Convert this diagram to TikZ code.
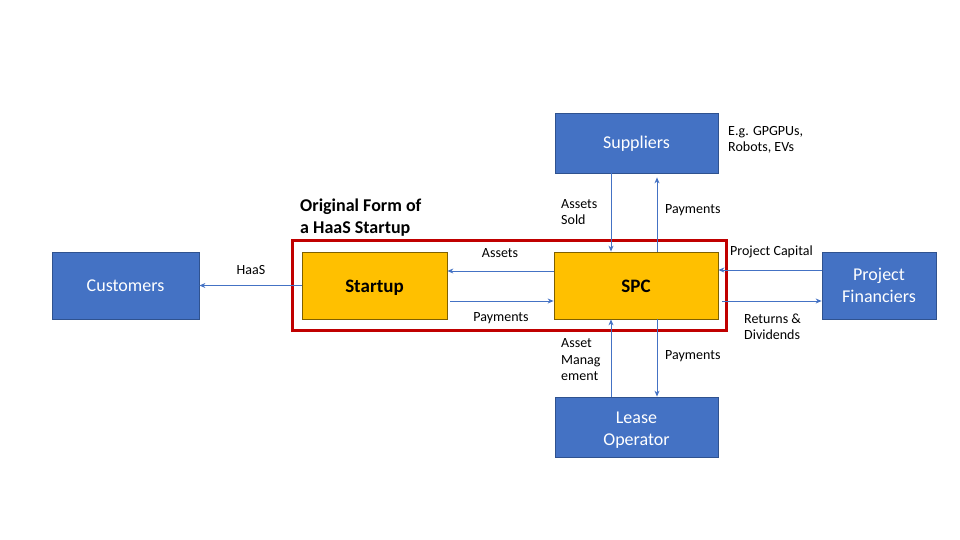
\documentclass[tikz,border=0pt]{standalone}
\usepackage{fontspec}
\setmainfont{Carlito}
\usetikzlibrary{arrows.meta}
\definecolor{bluebox}{HTML}{4472C4}
\definecolor{blueedge}{HTML}{2F528F}
\definecolor{yellowbox}{HTML}{FFC000}
\definecolor{yellowedge}{HTML}{7F6000}
\definecolor{redframe}{HTML}{C00000}
\tikzset{
  bluenode/.style={draw=blueedge, line width=0.8pt, fill=bluebox, text=white, align=center,
    font=\fontsize{18}{22}\selectfont, inner sep=0pt},
  yellownode/.style={draw=yellowedge, line width=0.8pt, fill=yellowbox, text=black,
    font=\fontsize{19}{22}\selectfont\bfseries, inner sep=0pt, text height=14pt, text depth=0pt},
  arr/.style={draw=bluebox, line width=0.9pt, -{Stealth[length=6pt,width=5pt]}},
  lbl/.style={font=\fontsize{14}{16.5}\selectfont, text=black, align=left, inner sep=0pt},
}
\begin{document}
\begin{tikzpicture}[x=1pt,y=-1pt]
\useasboundingbox (0,0) rectangle (960,540);
% red frame
\node[draw=redframe, line width=3pt, minimum width=434pt, minimum height=90pt, inner sep=0pt] (frame) at (509,285) {};
% boxes
\node[bluenode, minimum width=147pt, minimum height=67pt] (cust) at (125.5,285.5) {Customers};
\node[yellownode, minimum width=145pt, minimum height=67pt] (startup) at (374.5,285.5) {\smash{Startup}};
\node[yellownode, minimum width=164pt, minimum height=67pt] (spc) at (636,285.5) {\smash{SPC}};
\node[bluenode, minimum width=114pt, minimum height=67pt] (fin) at (879,285.5) {Project\\Financiers};
\node[bluenode, minimum width=163pt, minimum height=60pt, text height=12pt, text depth=0pt] (sup) at (636.5,143) {\smash{Suppliers}};
\node[bluenode, minimum width=163pt, minimum height=60pt] (lease) at (636.5,427) {\rule{0pt}{17.5pt}Lease\\Operator};
% arrows
\draw[arr] (startup.west) -- (cust.east);
\draw[arr] ([yshift=14.5pt]spc.west) -- ([yshift=14.5pt]startup.east);
\draw[arr] ([xshift=3pt,yshift=-15.5pt]startup.east) -- ([yshift=-15.5pt]spc.west);
\draw[arr] ([xshift=-25.5pt]sup.south) -- ([xshift=-25pt]spc.north);
\draw[arr] ([xshift=21pt]spc.north) -- ([xshift=20.5pt,yshift=-4pt]sup.south);
\draw[arr] ([yshift=15.5pt]fin.west) -- ([yshift=15.5pt]spc.east);
\draw[arr] ([xshift=4pt,yshift=-15.5pt]spc.east) -- ([yshift=-15.5pt]fin.west);
\draw[arr] ([xshift=-25.5pt]lease.north) -- ([xshift=-25pt]spc.south);
\draw[arr] ([xshift=21pt]spc.south) -- ([xshift=20.5pt]lease.north);
% labels
\node[lbl] (lhaas) at (251,270) {HaaS};
\node[lbl] (lassets) at (500,253) {Assets};
\node[lbl] (lpay1) at (501,318) {Payments};
\node[lbl, anchor=west] (lsold) at (561,212) {Assets\\Sold};
\node[lbl, anchor=west] (lpay2) at (665,210) {Payments};
\node[lbl, anchor=west] (leg) at (728,140) {E.g. GPGPUs,\\Robots, EVs};
\node[lbl, anchor=west] (lcap) at (730,252) {Project Capital};
\node[lbl, anchor=west] (lret) at (744,327) {Returns \&\\Dividends};
\node[lbl, anchor=west] (lam) at (561,360) {Asset\\Manag\\ement};
\node[lbl, anchor=west] (lpay3) at (665,356) {Payments};
\node[anchor=west, align=left, inner sep=0pt, font=\fontsize{18}{22}\selectfont\bfseries] (ltitle) at (300,218) {Original Form of\\a HaaS Startup};
\end{tikzpicture}
\end{document}
